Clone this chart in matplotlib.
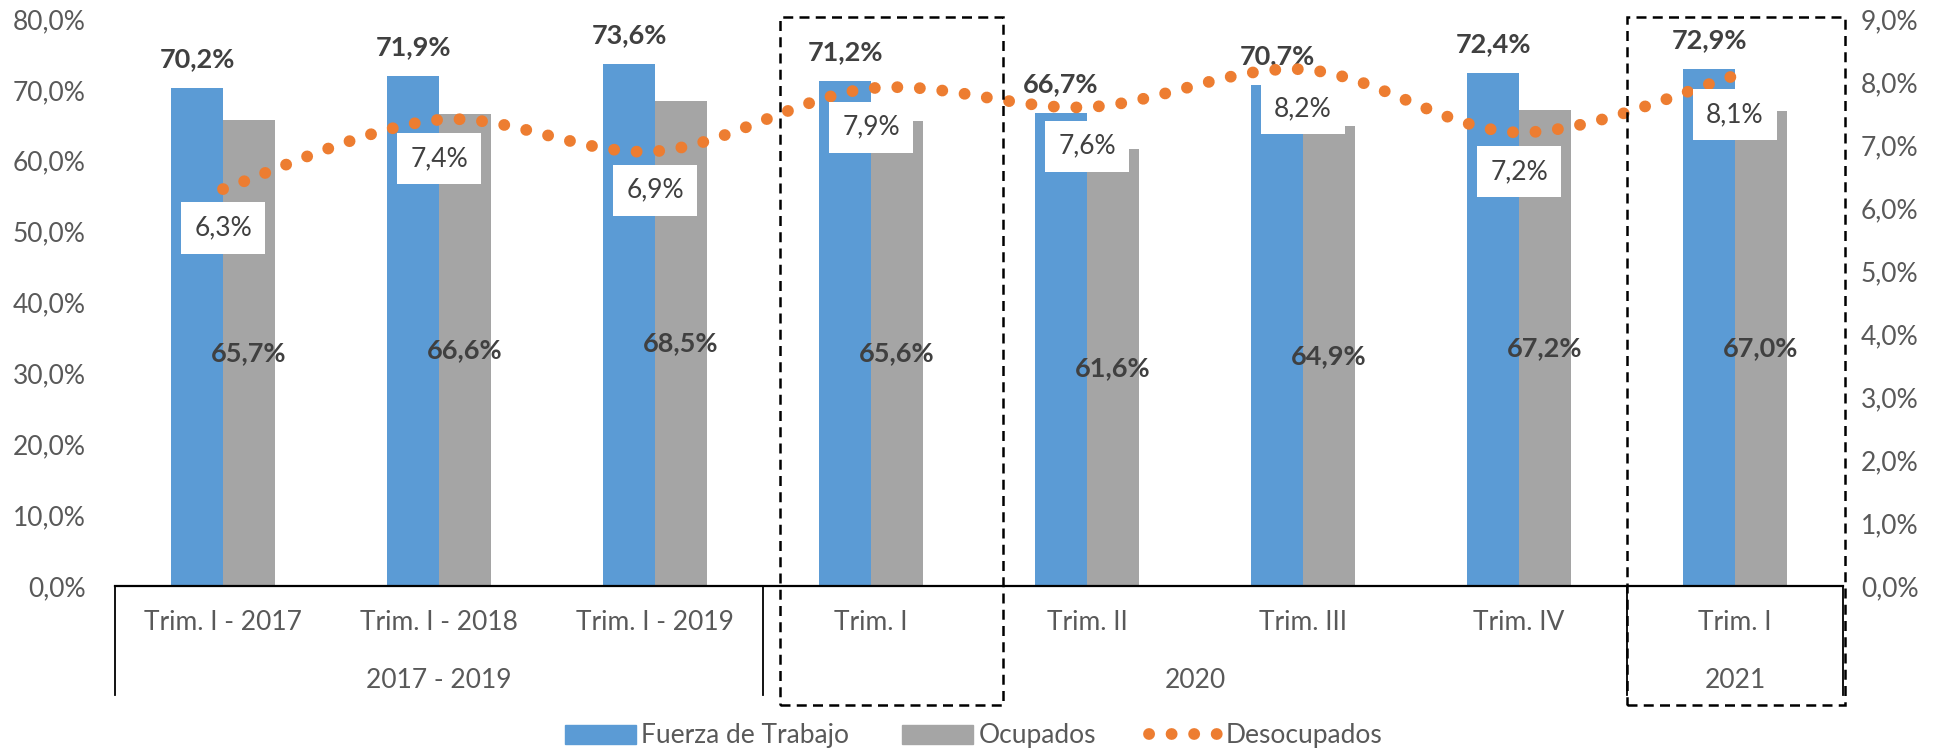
import numpy as np
import matplotlib
matplotlib.use("Agg")
import matplotlib.pyplot as plt
from matplotlib.path import Path
from matplotlib.patches import PathPatch, Patch, Rectangle
from matplotlib.lines import Line2D
import matplotlib.transforms as mtransforms

plt.rcParams['font.family'] = ['Lato', 'DejaVu Sans']

categories = ['Trim. I - 2017', 'Trim. I - 2018', 'Trim. I - 2019',
              'Trim. I', 'Trim. II', 'Trim. III', 'Trim. IV', 'Trim. I']
groups = ['2017 - 2019', '2020', '2021']
group_spans = [(0, 2), (3, 6), (7, 7)]
fuerza = [70.2, 71.9, 73.6, 71.2, 66.7, 70.7, 72.4, 72.9]
ocupados = [65.7, 66.6, 68.5, 65.6, 61.6, 64.9, 67.2, 67.0]
desocupados = [6.3, 7.4, 6.9, 7.9, 7.6, 8.2, 7.2, 8.1]

BLUE = '#5B9BD5'
GRAY = '#A5A5A5'
ORANGE = '#ED7D31'
DARK = '#404040'
TICK = '#595959'
FS = 19


def pct(v):
    return f"{v:.1f}%".replace('.', ',')


W, H = 1947, 751
fig = plt.figure(figsize=(W / 100, H / 100), dpi=100)
ax = fig.add_axes([115 / W, 1 - 586 / H, (1843 - 115) / W, (586 - 19) / H])
ax2 = ax.twinx()

x = np.arange(len(categories))
bw = 0.24
ax.bar(x - bw / 2, fuerza, bw, color=BLUE, label='Fuerza de Trabajo', zorder=2)
ax.bar(x + bw / 2, ocupados, bw, color=GRAY, label='Ocupados', zorder=2)

ax.set_xlim(-0.5, len(categories) - 0.5)
ax.set_ylim(0, 80)
ax2.set_ylim(0, 9)

ax.set_yticks(np.arange(0, 81, 10))
ax.set_yticklabels([pct(v) for v in np.arange(0, 81, 10)])
ax2.set_yticks(np.arange(0, 10, 1))
ax2.set_yticklabels([pct(v) for v in np.arange(0, 10, 1)])
ax.tick_params(axis='y', length=0, pad=21, labelsize=FS, labelcolor=TICK)
ax2.tick_params(axis='y', length=0, pad=13, labelsize=FS, labelcolor=TICK)
ax.set_xticks([])

for a in (ax, ax2):
    for s in ('top', 'left', 'right'):
        a.spines[s].set_visible(False)
ax2.spines['bottom'].set_visible(False)
ax.spines['bottom'].set_color('black')
ax.spines['bottom'].set_linewidth(1.6)

# labels on bars
for xi, v in zip(x, fuerza):
    ax.annotate(pct(v), (xi - bw / 2, v), xytext=(0, 29), textcoords='offset pixels',
                ha='center', va='center', fontsize=19.5, fontweight='bold', color=DARK, zorder=5)
for xi, v in zip(x, ocupados):
    ax.text(xi + bw / 2, v / 2, pct(v), ha='center', va='center', fontsize=19.5,
            fontweight='bold', color=DARK, zorder=5)

# smoothed dotted line for Desocupados
pts = np.column_stack([x, desocupados]).astype(float)
verts = [pts[0]]
codes = [Path.MOVETO]
for i in range(len(pts) - 1):
    p0 = pts[max(i - 1, 0)]
    p1 = pts[i]
    p2 = pts[i + 1]
    p3 = pts[min(i + 2, len(pts) - 1)]
    verts += [p1 + (p2 - p0) / 6, p2 - (p3 - p1) / 6, p2]
    codes += [Path.CURVE4] * 3
curve = PathPatch(Path(verts, codes), fill=False, edgecolor=ORANGE, linewidth=8.5,
                  linestyle=(0, (0.01, 1.9)), capstyle='round', zorder=3)
ax2.add_patch(curve)

for xi, v in zip(x, desocupados):
    ax2.annotate(pct(v), (xi, v), xytext=(0, -39), textcoords='offset pixels',
                 ha='center', va='center', fontsize=FS, color=DARK, zorder=6,
                 bbox=dict(boxstyle='square,pad=0.5', fc='white', ec='none'))

# multi-level category axis
trans = mtransforms.blended_transform_factory(ax.transData, fig.transFigure)
for xi, lab in zip(x, categories):
    ax.text(xi, 1 - 622 / H, lab, transform=trans, ha='center', va='center',
            fontsize=FS, color=TICK)
for (a, b), lab in zip(group_spans, groups):
    ax.text((a + b) / 2, 1 - 680 / H, lab, transform=trans, ha='center', va='center',
            fontsize=FS, color=TICK)
for xs in (-0.5, 2.5, 6.5, 7.5):
    fig.add_artist(Line2D([xs, xs], [1 - 586 / H, 1 - 695 / H], transform=trans,
                          color='black', lw=1.3))

# dashed highlight boxes
y0 = 1 - 705 / H
y1 = 1 - 17 / H
for xa, xb in ((2.58, 3.61), (6.5, 7.51)):
    fig.add_artist(Rectangle((xa, y0), xb - xa, y1 - y0, transform=trans, fill=False,
                             edgecolor='black', lw=1.8, linestyle=(0, (4, 2.5))))

handles = [Patch(color=BLUE), Patch(color=GRAY),
           Line2D([], [], color=ORANGE, lw=8.5, linestyle=(0, (0.01, 1.9)),
                  dash_capstyle='round')]
fig.legend(handles, ['Fuerza de Trabajo', 'Ocupados', 'Desocupados'], loc='center',
           bbox_to_anchor=(0.5, 1 - 736 / H), ncol=3, frameon=False, fontsize=FS,
           labelcolor=TICK, handlelength=2.7, handleheight=0.75, handletextpad=0.2,
           columnspacing=2.0)

fig.savefig('out.png', dpi=100)
